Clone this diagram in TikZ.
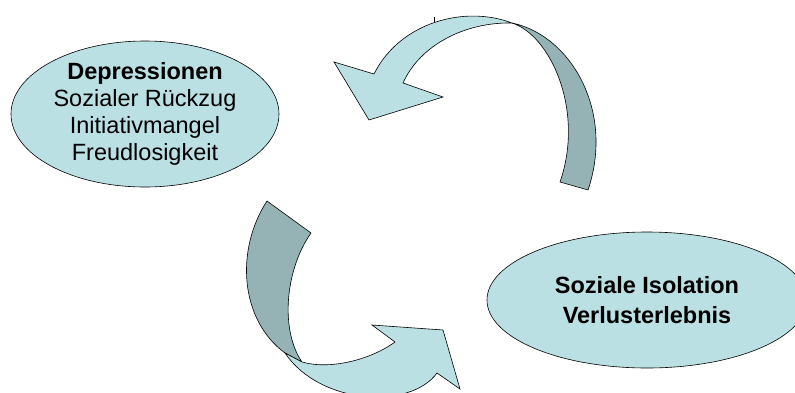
\documentclass[tikz,border=0pt]{standalone}
\usepackage{fontspec}
\setmainfont{Liberation Sans}
\usetikzlibrary{shapes.geometric}
\definecolor{lightcy}{RGB}{187,224,227}
\definecolor{darkcy}{RGB}{149,179,181}
\tikzset{
  bubble/.style={ellipse,draw=black,line width=0.6pt,fill=lightcy,inner sep=0pt,align=center},
  bandlight/.style={draw=black,line width=0.6pt,fill=lightcy,line join=miter},
  banddark/.style={draw=black,line width=0.6pt,fill=darkcy,line join=miter},
}
\begin{document}
\begin{tikzpicture}[x=1pt,y=-1pt]
\useasboundingbox (0,0) rectangle (795,392);
\clip (0,0) rectangle (795,392);

% Ellipse 1
\node[bubble,minimum width=268pt,minimum height=146pt,
      font=\fontsize{23.5}{27}\selectfont] (dep) at (145,114)
  {\textbf{Depressionen}\\Sozialer Rückzug\\Initiativmangel\\Freudlosigkeit};

% Ellipse 2
\node[bubble,minimum width=320pt,minimum height=136pt,
      font=\fontsize{23.5}{30}\selectfont\bfseries] (iso) at (647,300)
  {Soziale Isolation\\Verlusterlebnis};

% Top curved arrow
\coordinate (tw1) at (512,23);
\path[banddark] (tw1) .. controls (570,35) and (615,110) .. (588,190)
  -- (560,182) .. controls (585,110) and (550,35) .. (tw1) -- cycle;
\path[bandlight] (374,74) -- (334,62) -- (369,120) -- (443,97) -- (403,83)
  .. controls (420,45) and (465,22) .. (tw1)
  .. controls (465,5) and (400,22) .. (374,74) -- cycle;
\coordinate (tick) at (434,17);
\draw[line width=0.5pt] (tick) -- ++(0,5);

% Bottom curved arrow
\path[banddark] (267,201) -- (311,233)
  .. controls (285,270) and (280,330) .. (302,362)
  -- (285,353)
  .. controls (240,320) and (235,250) .. (267,201) -- cycle;
\path[bandlight] (285,353) -- (302,362)
  .. controls (330,370) and (370,360) .. (395,342)
  -- (372,325) -- (443,330) -- (460,389) -- (437,373)
  .. controls (410,410) and (320,405) .. (285,353) -- cycle;
\end{tikzpicture}
\end{document}
